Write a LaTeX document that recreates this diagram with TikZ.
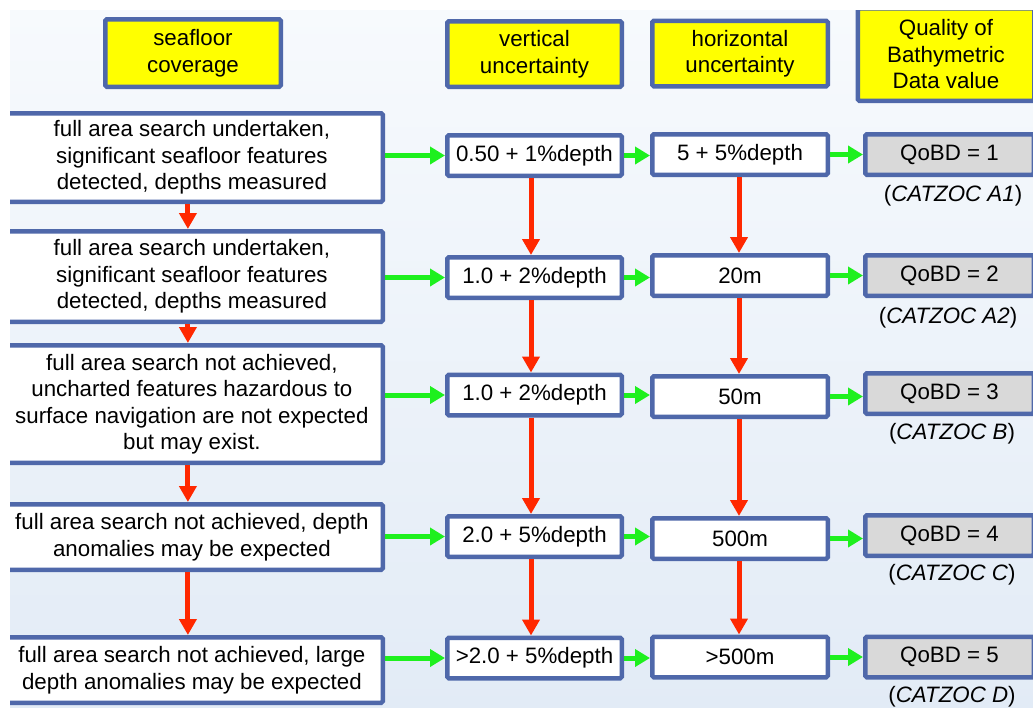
\documentclass[tikz,border=0pt]{standalone}
\usepackage{fontspec}
\setmainfont{Liberation Sans}
\usetikzlibrary{arrows.meta}
\definecolor{bordc}{RGB}{79,104,170}
\definecolor{hdrfill}{RGB}{255,255,0}
\definecolor{qfill}{RGB}{217,217,217}
\definecolor{grn}{RGB}{30,240,30}
\definecolor{rd}{RGB}{255,40,0}
\definecolor{bgtop}{RGB}{247,250,253}
\definecolor{bgbot}{RGB}{226,235,246}
\begin{document}
\begin{tikzpicture}[x=1pt,y=-1pt,
  box/.style={draw=bordc, line width=4.5pt, fill=white, inner sep=0pt, align=center,
    font=\fontsize{22.3}{26.5}\selectfont, rounded corners=1.5pt},
  hdr/.style={box, fill=hdrfill},
  qbox/.style={box, fill=qfill},
  leftbox/.style={box, minimum width=381.75pt},
  vbox/.style={box, minimum width=174.5pt, minimum height=40.5pt},
  hbox/.style={box, minimum width=175.5pt, minimum height=40.5pt},
  qb/.style={qbox, minimum width=168.5pt, minimum height=40.5pt},
  capt/.style={inner sep=0pt, font=\fontsize{22.3}{26.5}\selectfont},
  garrow/.style={draw=grn, line width=5pt, -{Triangle[length=15pt,width=17pt]}},
  rarrow/.style={draw=rd, line width=5pt, -{Triangle[length=16pt,width=17pt]}}
]
\useasboundingbox (0,0) rectangle (1033,707);
\clip (0,0) rectangle (1033,707);
\shade[top color=bgtop, bottom color=bgbot] (10,10) rectangle (1040,712);

% headers
\node[hdr, minimum width=175.5pt, minimum height=67.5pt] (hA) at (193,53) {seafloor\\coverage};
\node[hdr, minimum width=174.5pt, minimum height=65.5pt] (hB) at (534.5,54) {vertical\\uncertainty};
\node[hdr, minimum width=175.5pt, minimum height=65.5pt] (hC) at (740,53.5) {horizontal\\uncertainty};
\node[hdr, minimum width=176.5pt, minimum height=92.5pt] (hD) at (946,54.5) {Quality of\\Bathymetric\\Data value};

% left column
\node[leftbox, minimum height=88.5pt] (L1) at (191.9,157.5) {full area search undertaken,\\significant seafloor features\\detected, depths measured};
\node[leftbox, minimum height=90.5pt] (L2) at (191.9,276.5) {full area search undertaken,\\significant seafloor features\\detected, depths measured};
\node[leftbox, minimum height=117.5pt] (L3) at (191.9,404) {full area search not achieved,\\uncharted features hazardous to\\surface navigation are not expected\\but may exist.};
\node[leftbox, minimum height=65.5pt] (L4) at (191.9,537) {full area search not achieved, depth\\anomalies may be expected};
\node[leftbox, minimum height=65.5pt] (L5) at (191.9,670) {full area search not achieved, large\\depth anomalies may be expected};

% vertical uncertainty
\node[vbox] (V1) at (534.5,155.5) {0.50 + 1\%depth};
\node[vbox] (V2) at (534.5,277.5) {1.0 + 2\%depth};
\node[vbox] (V3) at (534.5,395) {1.0 + 2\%depth};
\node[vbox] (V4) at (534.5,536.5) {2.0 + 5\%depth};
\node[vbox] (V5) at (534.5,658) {>2.0 + 5\%depth};

% horizontal uncertainty
\node[hbox] (H1) at (740,154.5) {5 + 5\%depth};
\node[hbox] (H2) at (740,275.5) {20m};
\node[hbox] (H3) at (740,396.5) {50m};
\node[hbox] (H4) at (740,538.5) {500m};
\node[hbox] (H5) at (740,657) {>500m};

% QoBD
\node[qb] (Q1) at (949.5,154.5) {QoBD = 1};
\node[qb] (Q2) at (949.5,275.5) {QoBD = 2};
\node[qb] (Q3) at (949.5,393.5) {QoBD = 3};
\node[qb] (Q4) at (949.5,535.5) {QoBD = 4};
\node[qb] (Q5) at (949.5,657) {QoBD = 5};

% captions
\node[capt] (C1) at (953,196) {(\textit{CATZOC A1})};
\node[capt] (C2) at (948,318) {(\textit{CATZOC A2})};
\node[capt] (C3) at (952,434) {(\textit{CATZOC B})};
\node[capt] (C4) at (952,575) {(\textit{CATZOC C})};
\node[capt] (C5) at (952,697) {(\textit{CATZOC D})};

% green arrows
\foreach \i in {1,...,5}{
  \draw[garrow] (L\i.east |- V\i.west) -- (V\i.west);
  \draw[garrow] (V\i.east) -- (H\i.west |- V\i.east);
  \draw[garrow] (H\i.east) -- (Q\i.west |- H\i.east);
}

% red arrows
\foreach \i/\j in {1/2,2/3,3/4,4/5}{
  \draw[rarrow] ([xshift=-4pt]L\i.south) -- ([xshift=-4pt]L\j.north);
  \draw[rarrow] ([xshift=-3.5pt]V\i.south) -- ([xshift=-3.5pt]V\j.north);
  \draw[rarrow] ([xshift=-1pt]H\i.south) -- ([xshift=-1pt]H\j.north);
}

% white page margins
\fill[white] (-5,-5) rectangle (10,712);
\fill[white] (-5,-5) rectangle (1040,10);
\end{tikzpicture}
\end{document}
